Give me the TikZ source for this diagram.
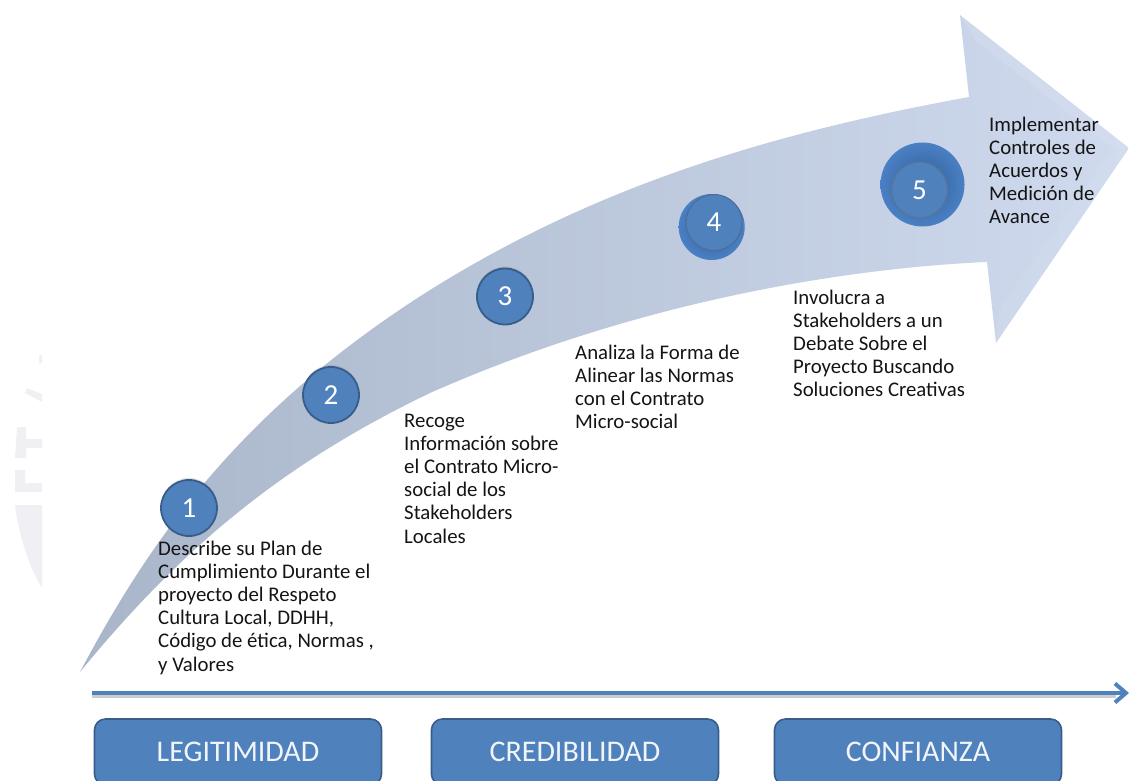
\documentclass[tikz,border=0pt]{standalone}
\usepackage{fontspec}
\setmainfont{Carlito}
\usetikzlibrary{arrows.meta,shadows,fadings}
\definecolor{mainblue}{HTML}{4F81BD}
\definecolor{edgeblue}{HTML}{385D8A}
\definecolor{ringdark}{HTML}{2F5C96}
\definecolor{ringlight}{HTML}{4A80C4}
\definecolor{bandDark}{HTML}{A9B5C9}
\definecolor{bandLight}{HTML}{CFDAEE}
\definecolor{wm}{HTML}{F0F0F4}
\tikzset{
  numdot/.style={circle,draw=edgeblue,line width=1.8pt,fill=mainblue,minimum size=56pt,inner sep=0pt,text=white,font=\fontsize{29}{29}\selectfont,drop shadow={opacity=.25,shadow xshift=0pt,shadow yshift=2pt}},
  phase/.style={rounded corners=11pt,draw=edgeblue,line width=1.6pt,fill=mainblue,minimum width=287pt,minimum height=66pt,text=white!92!mainblue,font=\fontsize{30}{30}\selectfont},
  note/.style={align=left,anchor=north west,inner sep=0pt,text=black!92,font=\fontsize{20.8}{23.2}\selectfont},
  wmshape/.style={fill=wm,draw=none}
}
\begin{document}
\begin{tikzpicture}[x=1pt,y=-1pt]
\useasboundingbox (0,0) rectangle (1129,781);
% watermark remnants
\fill[wmshape] (15,505) -- (42,505) -- (42,588) .. controls (28,565) and (19,535) .. (15,505) -- cycle;
\fill[wmshape] (15,470) -- (25,470) -- (25,483) -- (42,483) -- (42,492) -- (15,492) -- cycle;
\fill[wmshape] (17,427) -- (26,427) -- (26,439) -- (42,439) -- (42,448) -- (26,448) -- (26,458) -- (15,458) -- cycle;
\fill[wmshape] (27,388) -- (42,394) -- (42,402) -- (25,393) -- cycle;
\fill[wmshape] (39.5,355) -- (42,355) -- (42,363) -- (39,363) -- cycle;
% curved arrow
\path[left color=bandDark,right color=bandLight,shading angle=90]
  (80,672) .. controls (150,540) and (240,410) .. (430,290)
  .. controls (590,190) and (760,135) .. (969,97)
  -- (960,15) -- (1129,148) -- (996,343) -- (987,262)
  .. controls (850,268) and (640,300) .. (430,393)
  .. controls (280,465) and (180,550) .. (80,672) -- cycle;
% head bevel
\fill[white,opacity=.10] (960,15) -- (1129,148) -- (1113,148) -- (975,40) -- cycle;
\fill[white,opacity=.06] (996,343) -- (1129,148) -- (1113,148) -- (998,310) -- cycle;
% baseline arrow
\coordinate (axisL) at (92,693);
\coordinate (axisR) at (1129,693);
\draw[black,opacity=.2,line width=2.5pt] (92,696.5) -- (1116,696.5);
\draw[mainblue,line width=4pt,-{Straight Barb[length=11pt,width=19pt,line width=4pt]}] (axisL) -- (axisR);
% numbered circles
\node[numdot] (n1) at (189,508) {1};
\node[numdot] (n2) at (331,395) {2};
\node[numdot] (n3) at (505,296.5) {3};
\node[circle,minimum size=66pt,inner sep=0pt,draw=none,inner color=ringdark,outer color=ringlight] (n4o) at (711.7,227) {};
\node[circle,minimum size=56pt,inner sep=0pt,draw=edgeblue!90,line width=1pt,fill=mainblue,text=white,font=\fontsize{29}{29}\selectfont] (n4) at (714,222.5) {\raisebox{-3pt}{4}};
\node[circle,minimum size=84pt,inner sep=0pt,draw=none,inner color=ringdark,outer color=ringlight] (n5o) at (922.5,184.5) {};
\node[circle,minimum size=56pt,inner sep=0pt,draw=edgeblue!85,line width=1.4pt,fill=mainblue,text=white,font=\fontsize{29}{29}\selectfont] (n5) at (919.5,190) {5};
% notes
\node[note] (t1) at (158,540.5) {Describe su Plan de\\Cumplimiento Durante el\\proyecto del Respeto\\Cultura Local, DDHH,\\Código de ética, Normas ,\\y Valores};
\node[note] (t2) at (404,413.5) {Recoge\\Información sobre\\el Contrato Micro-\\social de los\\Stakeholders\\Locales};
\node[note] (t3) at (575,344.5) {Analiza la Forma de\\Alinear las Normas\\con el Contrato\\Micro-social};
\node[note] (t4) at (793,289.5) {Involucra a\\Stakeholders a un\\Debate Sobre el\\Proyecto Buscando\\Soluciones Creativas};
\node[note] (t5) at (989,116.5) {Implementar\\Controles de\\Acuerdos y\\Medición de\\Avance};
% phases
\node[phase] (p1) at (238,752) {\raisebox{-1.5pt}{LEGITIMIDAD}};
\node[phase] (p2) at (575,752) {\raisebox{-1.5pt}{CREDIBILIDAD}};
\node[phase] (p3) at (918,752) {\raisebox{-1.5pt}{CONFIANZA}};
\end{tikzpicture}
\end{document}
